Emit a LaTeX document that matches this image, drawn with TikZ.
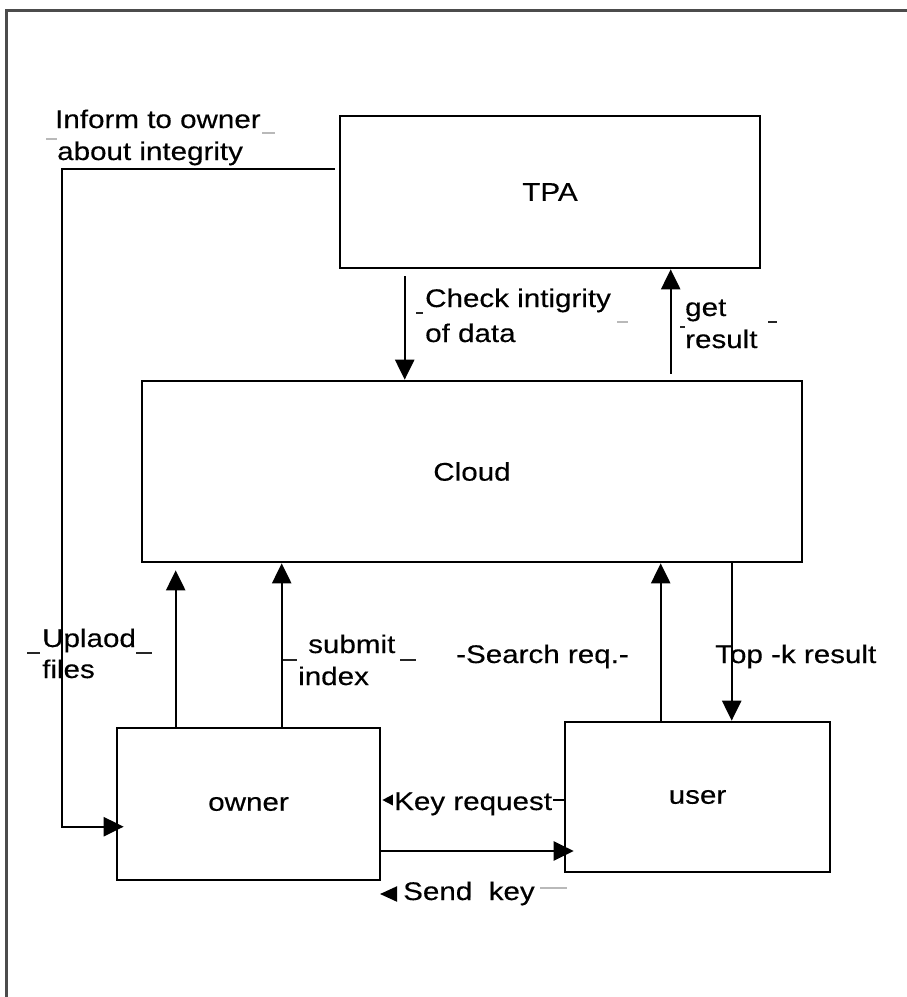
\documentclass[tikz,border=0pt]{standalone}
\usepackage{fontspec}
\setmainfont{Liberation Sans}[FakeStretch=1.16,FakeBold=0.3]
\usetikzlibrary{arrows.meta}
\begin{document}
\begin{tikzpicture}[x=1pt,y=-1pt,
  box/.style={draw,line width=2.6pt,inner sep=0pt,font=\fontsize{25.5}{32}\selectfont},
  lbl/.style={inner sep=0pt,anchor=base west,font=\fontsize{25.5}{32}\selectfont},
  arr/.style={line width=2.3pt,-{Triangle[length=20pt,width=19pt]}},
  smallarr/.style={line width=2pt,-{Triangle[length=14pt,width=14pt]}},
  dashdark/.style={line width=2pt,black!85},
  dashgray/.style={line width=2pt,gray!55}]
\useasboundingbox (0,0) rectangle (906,997);
% outer frame
\draw[line width=3pt,black!70] (6,1000) -- (6,10) -- (910,10);

% boxes
\node[box,minimum width=420pt,minimum height=152pt] (tpa) at (550,192) {TPA};
\node[box,minimum width=660pt,minimum height=181pt] (cloud) at (472,471.5) {Cloud};
\node[box,minimum width=263pt,minimum height=152pt] (owner) at (248.5,804) {owner};
\node[box,minimum width=265pt,minimum height=150pt] (user) at (697.5,797) {user};

% TPA <-> Cloud
\draw[arr] ([xshift=66pt,yshift=-7pt]tpa.south west) -- ([xshift=264pt]cloud.north west);
\draw[arr] ([xshift=530pt,yshift=6pt]cloud.north west) -- ([xshift=332pt]tpa.south west);
% TPA informs owner
\draw[arr] ([xshift=-4pt,yshift=-54pt]tpa.north west) -- ++(-273,0) |- ([xshift=8pt,yshift=-100pt]owner.north west);
% owner -> Cloud
\draw[arr] ([xshift=60pt]owner.north west) -- ([xshift=35pt,yshift=-7pt]cloud.south west);
\draw[arr] ([xshift=166pt]owner.north west) -- ([xshift=141pt]cloud.south west);
% user <-> Cloud
\draw[arr] ([xshift=97pt]user.north west) -- ([xshift=520pt]cloud.south west);
\draw[arr] ([xshift=591pt]cloud.south west) -- ([xshift=168pt]user.north west);
% owner <-> user
\draw[smallarr] ([yshift=-3pt]user.west) -- ([xshift=1pt,yshift=4pt]owner.east);
\draw[arr] ([yshift=-47pt]owner.east) -- ([xshift=10pt,yshift=-54pt]user.west);

% labels
\node[lbl] (inf1) at (55,128) {Inform to owner};
\node[lbl] (inf2) at (57,160) {about integrity};
\node[lbl] (chk1) at (425,307) {Check intigrity};
\node[lbl] (chk2) at (425,342) {of data};
\node[lbl] (get1) at (685,316) {get};
\node[lbl] (get2) at (685,348) {result};
\node[lbl] (upl1) at (42,647) {Uplaod};
\node[lbl] (upl2) at (42,678) {files};
\node[lbl] (sub1) at (308,653) {submit};
\node[lbl] (sub2) at (298,685) {index};
\node[lbl] (srch) at (456,663) {-Search req.-};
\node[lbl] (topk) at (715,663) {Top -k result};
\node[lbl,fill=white,inner sep=1pt] (keyr) at (393,810) {Key request};
\node[lbl] (send) at (403,900) {Send\ \ key};
\coordinate (sendtip) at (380,894);
\draw[line width=2pt,-{Triangle[length=17pt,width=15pt]}] ([xshift=5pt]sendtip) -- (sendtip);

% stray underscores around the labels
\draw[dashgray] (262,133) -- (275,133);
\draw[dashgray] (46,139) -- (57,139);
\draw[dashdark] (416,313) -- (423,313);
\draw[dashgray] (617,322) -- (628,322);
\draw[dashdark] (680,327) -- (685,327);
\draw[dashdark] (768,322) -- (777,322);
\draw[dashdark] (27,653) -- (40,653);
\draw[dashdark] (136,653) -- (152,653);
\draw[dashdark] (283,660) -- (297,660);
\draw[dashdark] (400,660) -- (416,660);
\draw[dashgray] (540,888) -- (567,888);
\end{tikzpicture}
\end{document}
